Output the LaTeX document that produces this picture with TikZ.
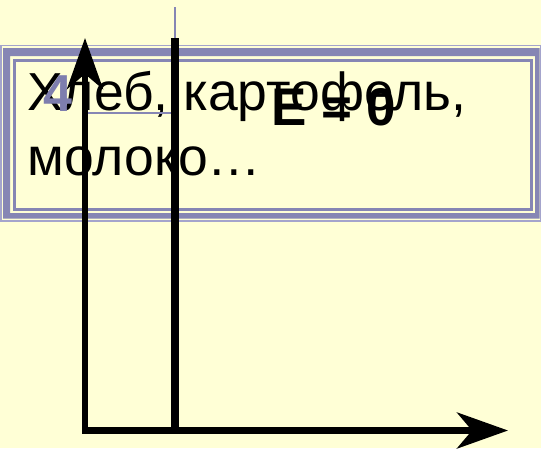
\documentclass[tikz,border=0pt]{standalone}
\usepackage{fontspec}
\setmainfont{Liberation Sans}
\usetikzlibrary{arrows.meta}
\definecolor{bg}{RGB}{255,255,214}
\definecolor{frm}{RGB}{134,134,180}
\definecolor{frmlight}{RGB}{164,164,204}
\definecolor{numc}{RGB}{126,126,174}
\begin{document}
\begin{tikzpicture}[x=1pt,y=-1pt,
  bigtext/.style={anchor=base west, inner sep=0pt, font=\fontsize{53.5}{64}\selectfont},
  axisline/.style={line width=6.5pt, -{Stealth[length=51pt,width=36pt,inset=15pt]}},
  thinline/.style={frm, line width=1.5pt}]
\fill[bg] (0,0) rectangle (541,448);
\useasboundingbox (0,0) rectangle (541,448);
% frame
\draw[frmlight, line width=1.5pt] (1,45.5) rectangle (540.3,221);
\fill[frm, even odd rule] (3,48) rectangle (539.5,218.5) (10,56) rectangle (535,213);
\draw[frm, line width=3pt] (14,60.5) rectangle (531.5,209.5);
% texts
\node[bigtext] (l1) at (27,110) {Хлеб, картофель,};
\node[bigtext] (l2) at (27,175) {молоко…};
\node[bigtext, text=numc, font=\fontsize{52}{62}\selectfont\bfseries] (four) at (43,111) {4};
\node[bigtext, font=\fontsize{53}{62}\selectfont\bfseries] (eq) at (271,125) {E = 0};
% coordinates
\coordinate (ytop) at (85,38);
\coordinate (ybot) at (85,433);
\coordinate (xend) at (508,430.5);
\coordinate (xstart) at (82,430.5);
\coordinate (vtop) at (175,38);
\coordinate (vbot) at (175,428);
\coordinate (vthin) at (175,7);
\coordinate (hl) at (85,113);
\coordinate (hr) at (171,113);
% thin lines
\draw[thinline] (vthin) -- (vtop);
\draw[thinline] (hl) -- (hr);
% axes
\draw[axisline] (ybot) -- (ytop);
\draw[axisline] (xstart) -- (xend);
\draw[line width=7.5pt] (vtop) -- (vbot);
\end{tikzpicture}
\end{document}
